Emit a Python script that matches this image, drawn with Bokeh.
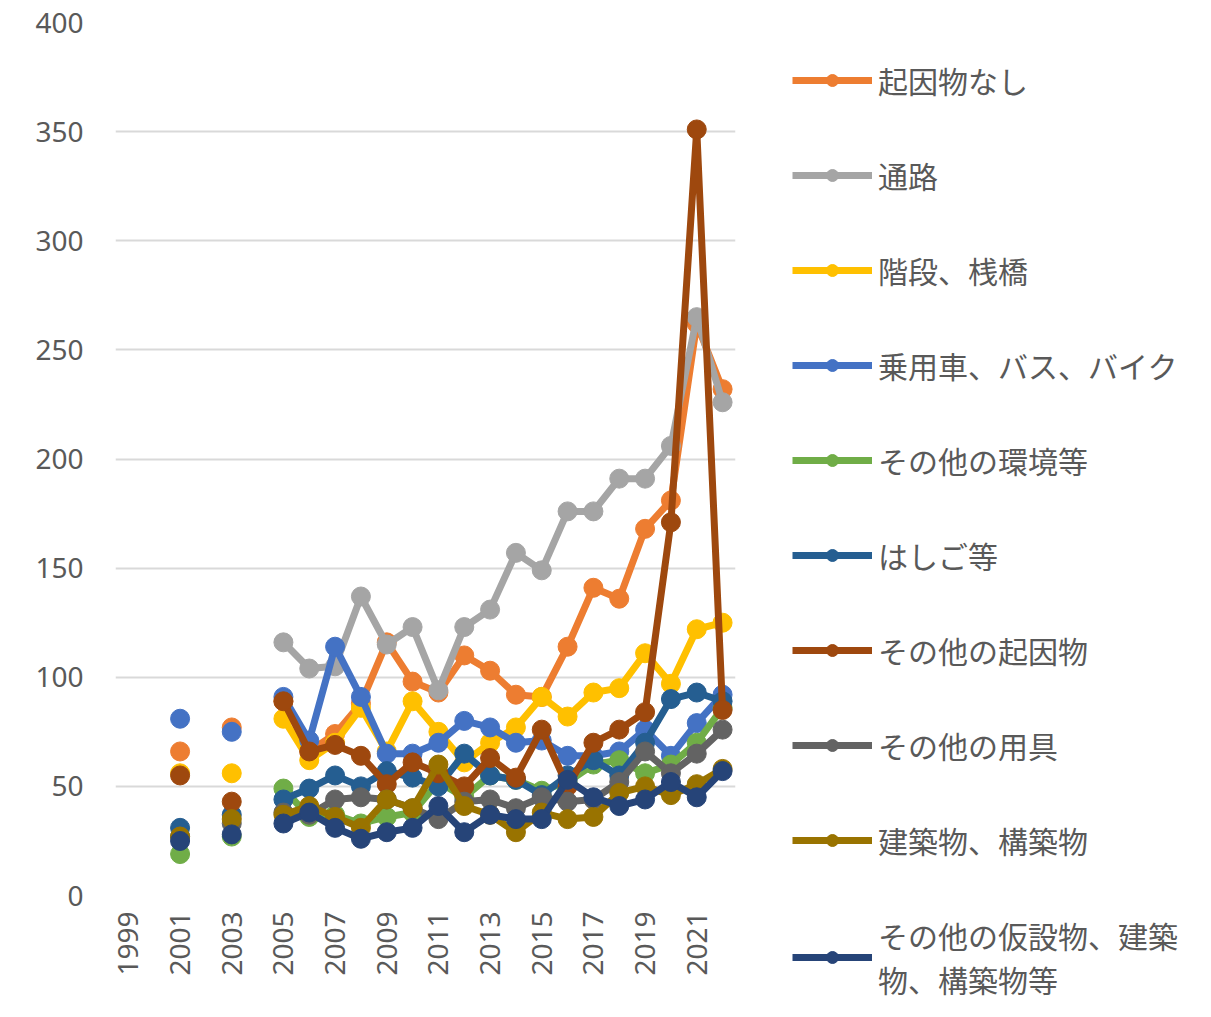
import math
from bokeh.plotting import figure
from bokeh.models import Legend, LegendItem, FixedTicker, ColumnDataSource
from bokeh.embed import file_html
from bokeh.resources import INLINE

nan = float("nan")

years = list(range(2001, 2023))

labels = [
    "起因物なし",
    "通路",
    "階段、桟橋",
    "乗用車、バス、バイク",
    "その他の環境等",
    "はしご等",
    "その他の起因物",
    "その他の用具",
    "建築物、構築物",
    "その他の仮設物、建築\n物、構築物等",
]

# values for 2001..2022 (2002 and 2004: no data)
s_kiin_nashi = [66, nan, 77, nan, 89, 66, 74, 88, 116, 98, 93, 110, 103, 92, 91, 114, 141, 136, 168, 181, 262, 232]
s_tsuro      = [nan, nan, nan, nan, 116, 104, 105, 137, 115, 123, 94, 123, 131, 157, 149, 176, 176, 191, 191, 206, 265, 226]
s_kaidan     = [56, nan, 56, nan, 81, 62, 70, 86, 66, 89, 75, 61, 70, 77, 91, 82, 93, 95, 111, 97, 122, 125]
s_jyoyosha   = [81, nan, 75, nan, 91, 71, 114, 91, 65, 65, 70, 80, 77, 70, 71, 64, 64, 66, 76, 64, 79, 92]
s_kankyo     = [19, nan, 27, nan, 49, 36, 37, 33, 36, 38, 52, 45, 55, 53, 48, 52, 60, 62, 56, 60, 70, 86]
s_hashigo    = [31, nan, 37, nan, 44, 49, 55, 50, 57, 54, 50, 65, 55, 53, 46, 55, 62, 55, 70, 90, 93, 89]
s_sonota_kiin = [55, nan, 43, nan, 89, 66, 69, 64, 51, 61, 56, 50, 63, 54, 76, 50, 70, 76, 84, 171, 351, 85]
s_yogu       = [27, nan, 33, nan, 38, 37, 44, 45, 44, 40, 35, 43, 44, 40, 45, 43, 44, 52, 66, 56, 65, 76]
s_kenchiku   = [27, nan, 35, nan, 37, 41, 36, 31, 44, 40, 60, 41, 37, 29, 38, 35, 36, 47, 50, 46, 51, 58]
s_kasetsu    = [25, nan, 28, nan, 33, 38, 31, 26, 29, 31, 41, 29, 37, 35, 35, 53, 45, 41, 44, 52, 45, 57]

series = [s_kiin_nashi, s_tsuro, s_kaidan, s_jyoyosha, s_kankyo,
          s_hashigo, s_sonota_kiin, s_yogu, s_kenchiku, s_kasetsu]

colors = ["#ED7D31", "#A5A5A5", "#FFC000", "#4472C4", "#70AD47",
          "#255E91", "#9E480E", "#636363", "#997300", "#264478"]

y_ticks = [0, 50, 100, 150, 200, 250, 300, 350, 400]
x_ticks = list(range(1999, 2022, 2))

p = figure(frame_width=620, frame_height=873, output_backend="svg", toolbar_location=None,
           x_range=(1998.5, 2022.5), y_range=(0, 400),
           min_border_left=115, min_border_right=0, min_border_top=22, min_border_bottom=106)
p.outline_line_color = None
p.background_fill_color = "white"
p.border_fill_color = "white"

p.xgrid.grid_line_color = None
p.ygrid.grid_line_color = "#D9D9D9"
p.ygrid.grid_line_width = 2
p.yaxis.ticker = FixedTicker(ticks=y_ticks)
p.xaxis.ticker = FixedTicker(ticks=x_ticks)
p.xaxis.major_label_overrides = {t: str(t) for t in x_ticks}

for ax in (p.xaxis[0], p.yaxis[0]):
    ax.axis_line_color = None
    ax.major_tick_line_color = None
    ax.minor_tick_line_color = None
    ax.major_label_text_font = "Noto Sans"
    ax.major_label_text_font_size = "28px"
    ax.major_label_text_color = "#595959"
p.yaxis.major_label_standoff = 26
p.xaxis.major_label_standoff = 10
p.xaxis.major_label_orientation = math.pi / 2

items = []
for lab, vals, col in zip(labels, series, colors):
    src = ColumnDataSource(dict(x=years, y=vals))
    r1 = p.line("x", "y", source=src, line_color=col, line_width=7, line_join="round")
    r2 = p.scatter("x", "y", source=src, fill_color=col, line_color=col, size=19)
    items.append(LegendItem(label=lab, renderers=[r1, r2]))

legend = Legend(items=items, location=(57, -106), orientation="vertical",
                label_text_font="Noto Sans CJK JP", label_text_font_size="30px",
                label_text_color="#595959", glyph_width=80, glyph_height=30,
                label_height=30, spacing=51, padding=0, margin=0,
                border_line_color=None, background_fill_alpha=0,
                label_standoff=6, label_text_line_height=1.7)
p.add_layout(legend, "right")

open("out.html", "w").write(file_html(p, INLINE))
